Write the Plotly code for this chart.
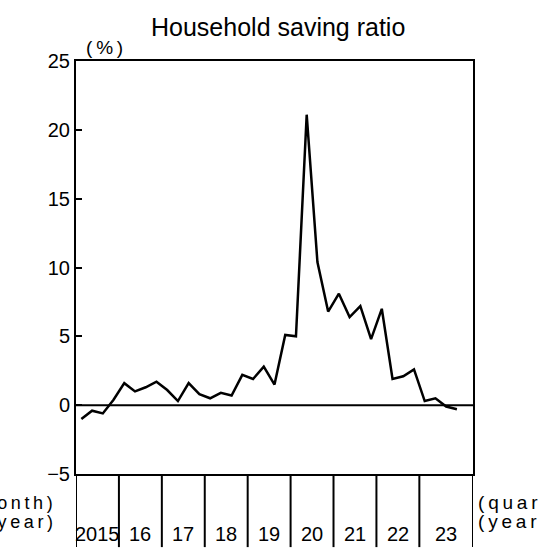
import plotly.graph_objects as go

years = ["2015", "16", "17", "18", "19", "20", "21", "22", "23"]
saving_ratio = [
    -1.0, -0.4, -0.6, 0.4,
    1.6, 1.0, 1.3, 1.7,
    1.1, 0.3, 1.6, 0.8,
    0.5, 0.9, 0.7, 2.2,
    1.9, 2.8, 1.5, 5.1,
    5.0, 21.1, 10.4, 6.8,
    8.1, 6.4, 7.2, 4.8,
    7.0, 1.9, 2.1, 2.6,
    0.3, 0.5, -0.1, -0.3,
]
y_ticks = [-5, 0, 5, 10, 15, 20, 25]

FONT = "Liberation Sans, Arial, sans-serif"
TS = "\u2009"

n = len(saving_ratio)
xq = list(range(n))
x_end = n + 0.5
boundaries = [4 * k - 0.5 for k in range(len(years))] + [x_end]
centers = [(boundaries[k] + boundaries[k + 1]) / 2 for k in range(len(years))]

fig = go.Figure()
fig.add_trace(go.Scatter(x=xq, y=saving_ratio, mode="lines",
                         line=dict(color="black", width=2.5), hoverinfo="skip"))

shapes = []
# zero line
shapes.append(dict(type="line", xref="paper", yref="y", x0=0, x1=1, y0=0, y1=0,
                   line=dict(color="black", width=2)))
for b in boundaries:
    shapes.append(dict(type="line", xref="x", yref="paper", x0=b, x1=b, y0=0, y1=-0.177,
                       line=dict(color="black", width=2)))

annotations = []
for c, lab in zip(centers, years):
    annotations.append(dict(x=c, y=-0.146, xref="x", yref="paper", text=lab, showarrow=False,
                            font=dict(family=FONT, size=20, color="black"),
                            xanchor="center", yanchor="middle"))
annotations.append(dict(x=0.509, y=1.0815, xref="paper", yref="paper", text="Household saving ratio",
                        showarrow=False, font=dict(family=FONT, size=25, color="black"),
                        xanchor="center", yanchor="middle"))
annotations.append(dict(x=0.073, y=1.033, xref="paper", yref="paper", text="(" + TS + "%" + TS + ")",
                        showarrow=False, font=dict(family=FONT, size=19, color="black"),
                        xanchor="center", yanchor="middle"))
annotations.append(dict(x=-0.053, y=-0.070, xref="paper", yref="paper",
                        text=TS.join("(month)"), showarrow=False,
                        font=dict(family=FONT, size=18, color="black"),
                        xanchor="right", yanchor="middle"))
annotations.append(dict(x=-0.053, y=-0.116, xref="paper", yref="paper",
                        text=TS.join("(year)"), showarrow=False,
                        font=dict(family=FONT, size=18, color="black"),
                        xanchor="right", yanchor="middle"))
annotations.append(dict(x=1.008, y=-0.070, xref="paper", yref="paper",
                        text=TS.join("(quarter)"), showarrow=False,
                        font=dict(family=FONT, size=19, color="black"),
                        xanchor="left", yanchor="middle"))
annotations.append(dict(x=1.008, y=-0.116, xref="paper", yref="paper",
                        text=TS.join("(year)"), showarrow=False,
                        font=dict(family=FONT, size=19, color="black"),
                        xanchor="left", yanchor="middle"))

fig.update_layout(
    width=540, height=556, autosize=False,
    margin=dict(l=76, r=67, t=61, b=82),
    plot_bgcolor="white", paper_bgcolor="white",
    showlegend=False,
    shapes=shapes, annotations=annotations,
    font=dict(family=FONT, color="black"),
)
fig.update_xaxes(range=[-0.5, x_end], showgrid=False, zeroline=False, showticklabels=False,
                 ticks="", showline=True, linecolor="black", linewidth=2, mirror=True)
fig.update_yaxes(range=[-5, 25], tickvals=y_ticks, showgrid=False, zeroline=False,
                 ticks="inside", ticklen=6, tickwidth=2, tickcolor="black",
                 tickfont=dict(family=FONT, size=20, color="black"),
                 showline=True, linecolor="black", linewidth=2, mirror=True)

fig.write_html("out.html", config={"displayModeBar": False},
               post_script="document.body.style.margin='0';document.body.style.overflow='hidden';")
